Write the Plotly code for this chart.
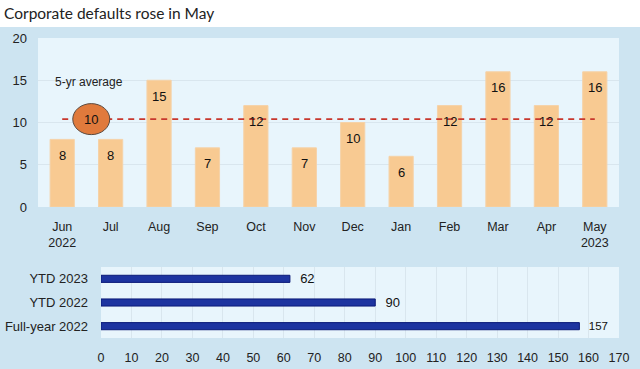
import plotly.graph_objects as go

# ---- data ----
months = ["Jun", "Jul", "Aug", "Sep", "Oct", "Nov", "Dec", "Jan", "Feb", "Mar", "Apr", "May"]
month_labels = ["Jun<br>2022", "Jul", "Aug", "Sep", "Oct", "Nov", "Dec", "Jan", "Feb", "Mar", "Apr", "May<br>2023"]
defaults = [8, 8, 15, 7, 12, 7, 10, 6, 12, 16, 12, 16]
avg_5yr = 10.4
avg_label = "10"
avg_marker_x = 0.6

totals_cats = ["Full-year 2022", "YTD 2022", "YTD 2023"]
totals_vals = [157, 90, 62]

W, H = 640, 369
OUTER = "#cde4f1"
INNER = "#e8f5fc"
GRID = "#d9e6ee"
FONT = "Liberation Sans, Arial, sans-serif"

def px_x(p):
    return p / W

def px_y(p):
    return 1 - p / H

fig = go.Figure()

xs = list(range(len(months)))
fig.add_trace(go.Bar(
    x=xs, y=defaults, width=0.5,
    marker=dict(color="#f8ca92", line=dict(color="#f5d2a8", width=1)),
    xaxis="x", yaxis="y", showlegend=False, hoverinfo="skip",
))
fig.add_trace(go.Scatter(
    x=[xs[0], xs[-1]], y=[avg_5yr, avg_5yr], mode="lines",
    line=dict(color="#c8372d", width=1.6, dash="6px,5px"),
    xaxis="x", yaxis="y", showlegend=False, hoverinfo="skip",
))

fig.add_trace(go.Bar(
    y=totals_cats, x=totals_vals, orientation="h", width=0.3,
    marker=dict(color="#1d34a0", line=dict(color="#0b1a78", width=1)),
    text=["\u00a0\u00a0" + str(v) for v in totals_vals], textposition="outside",
    textfont=dict(size=[11.5 if v >= 100 else 13 for v in totals_vals], color="#111", family=FONT),
    constraintext="none", cliponaxis=False,
    xaxis="x2", yaxis="y2", showlegend=False, hoverinfo="skip",
))

shapes = [
    dict(type="rect", xref="paper", yref="paper", x0=0, x1=1, y0=px_y(27), y1=1,
         fillcolor="white", line=dict(width=0), layer="below"),
    dict(type="circle", xref="x", yref="y", xsizemode="pixel", ysizemode="pixel",
         xanchor=avg_marker_x, yanchor=avg_5yr, x0=-18.5, x1=18.5, y0=-15.5, y1=15.5,
         fillcolor="#e07a3c", line=dict(color="#5a4a40", width=1), layer="above"),
]

annotations = [
    dict(text="Corporate defaults rose in May", xref="paper", yref="paper",
         x=px_x(2), y=px_y(13), xanchor="left", yanchor="middle", showarrow=False,
         font=dict(family="Lato, sans-serif", size=15.5, color="#222")),
    dict(text="5-yr average", xref="x", yref="y", x=avg_marker_x - 0.05, y=14.8,
         showarrow=False, font=dict(family=FONT, size=12, color="#222")),
    dict(text=avg_label, xref="x", yref="y", x=avg_marker_x, y=avg_5yr,
         showarrow=False, font=dict(family=FONT, size=13, color="#111")),
]
for x, v in zip(xs, defaults):
    annotations.append(dict(text=str(v), xref="x", yref="y", x=x, y=v, yshift=-16,
                            yanchor="middle", showarrow=False,
                            font=dict(family=FONT, size=13, color="#111")))

fig.update_layout(
    width=W, height=H,
    margin=dict(l=0, r=0, t=0, b=0),
    paper_bgcolor=OUTER, plot_bgcolor=INNER,
    template="none",
    font=dict(family=FONT, size=13, color="#222"),
    shapes=shapes, annotations=annotations,
    xaxis=dict(domain=[px_x(38), px_x(619)], range=[-0.5, 11.5],
               tickvals=xs, ticktext=month_labels, showgrid=False, zeroline=False,
               showline=False, ticks="", ticklabelstandoff=10, automargin=False,
               tickfont=dict(size=12.5)),
    yaxis=dict(domain=[px_y(207), px_y(38)], range=[0, 20], tickvals=[0, 5, 10, 15, 20],
               showgrid=True, gridcolor=GRID, gridwidth=1, zeroline=False, showline=False,
               ticks="", ticklabelstandoff=10, automargin=False, tickfont=dict(size=13)),
    xaxis2=dict(domain=[px_x(101), px_x(619)], range=[0, 170], dtick=10, anchor="y2",
                showgrid=True, gridcolor=GRID, zeroline=False, showline=False,
                ticks="", ticklabelstandoff=10, automargin=False, tickfont=dict(size=12.5)),
    yaxis2=dict(domain=[px_y(338), px_y(267)], range=[-0.5, 2.5], anchor="x2",
                categoryorder="array", categoryarray=totals_cats,
                showgrid=False, zeroline=False, showline=False,
                ticks="", ticklabelstandoff=12, automargin=False, tickfont=dict(size=13)),
)

fig.write_html("out.html", config={"displayModeBar": False},
               post_script="document.body.style.margin='0';document.body.style.overflow='hidden';")
